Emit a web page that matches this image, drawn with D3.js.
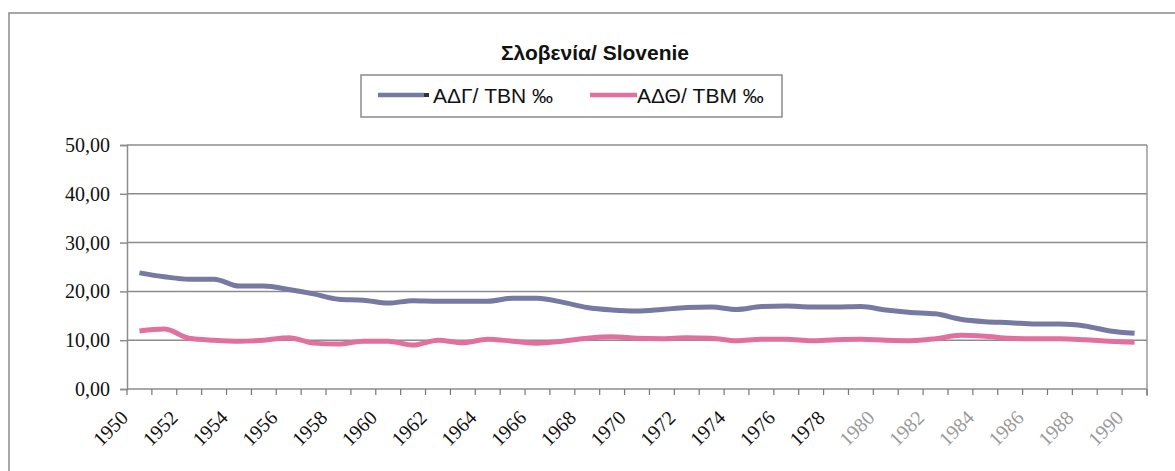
<!DOCTYPE html>
<html>
<head>
<meta charset="utf-8">
<script src="https://cdn.jsdelivr.net/npm/d3@7"></script>
<style>
  body { margin: 0; background: #fff; }
  svg { display: block; }
</style>
</head>
<body>
<div id="chart"></div>
<script>
// years and the two rates (per mille)
var years = d3.range(1950, 1991);
var tbn = [23.8, 23.0, 22.5, 22.5, 21.1, 21.1, 20.4, 19.5, 18.4, 18.2,
           17.6, 18.1, 18.0, 18.0, 18.0, 18.6, 18.6, 17.8, 16.7, 16.2,
           16.0, 16.3, 16.7, 16.8, 16.3, 16.9, 17.0, 16.8, 16.8, 16.9,
           16.2, 15.7, 15.4, 14.3, 13.8, 13.6, 13.3, 13.3, 12.9, 11.9, 11.4];
var tbm = [11.9, 12.3, 10.4, 10.0, 9.8, 10.0, 10.5, 9.4, 9.2, 9.8,
           9.8, 9.0, 10.0, 9.5, 10.2, 9.8, 9.4, 9.8, 10.4, 10.7,
           10.4, 10.3, 10.5, 10.4, 9.9, 10.2, 10.2, 9.9, 10.1, 10.2,
           10.0, 9.9, 10.3, 11.0, 10.8, 10.4, 10.3, 10.3, 10.1, 9.8, 9.6];
var yTicks = [0, 10, 20, 30, 40, 50];
var labelYears = d3.range(1950, 1991, 2);
var seriesNames = ["ΑΔΓ/ TBN ‰", "ΑΔΘ/ TBM ‰"];
var colors = ["#767aa2", "#e2709f"];

var W = 1175, H = 471;
var plot = {left: 127, right: 1147, top: 145, bottom: 389};

var svg = d3.select("#chart").append("svg")
  .attr("width", W).attr("height", H);

// outer frame of the chart
svg.append("rect")
  .attr("x", 9).attr("y", 13).attr("width", W + 10).attr("height", H)
  .attr("fill", "none").attr("stroke", "#8a8a8a").attr("stroke-width", 1.5);

var x = d3.scaleBand().domain(years).range([plot.left, plot.right]);
var y = d3.scaleLinear().domain([0, 50]).range([plot.bottom, plot.top]);

// gridlines
svg.append("g").selectAll("line").data(yTicks.slice(1)).enter().append("line")
  .attr("x1", plot.left).attr("x2", plot.right)
  .attr("y1", function(d) { return y(d); }).attr("y2", function(d) { return y(d); })
  .attr("stroke", "#8c8c8c").attr("stroke-width", 1.5);

// right edge of plot area
svg.append("line")
  .attr("x1", plot.right).attr("x2", plot.right)
  .attr("y1", plot.top).attr("y2", plot.bottom + 7)
  .attr("stroke", "#9a9a9a").attr("stroke-width", 1.5);

// y axis
var yAxis = svg.append("g")
  .attr("transform", "translate(" + plot.left + ",0)")
  .call(d3.axisLeft(y).tickValues(yTicks).tickSize(7).tickPadding(10)
    .tickFormat(function(d) { return d3.format(".2f")(d).replace(".", ","); }));
yAxis.select(".domain").attr("stroke", "#8c8c8c").attr("stroke-width", 1.5);
yAxis.selectAll(".tick line").attr("stroke", "#8c8c8c").attr("stroke-width", 1.5);
yAxis.selectAll("text")
  .attr("font-family", "'Liberation Serif', 'Times New Roman', serif")
  .attr("font-size", 20).attr("fill", "#111");

// x axis: ticks on the band edges
var edges = years.map(function(d) { return x(d); }).concat([plot.right]);
var xAxisG = svg.append("g");
xAxisG.append("line")
  .attr("x1", plot.left).attr("x2", plot.right)
  .attr("y1", plot.bottom).attr("y2", plot.bottom)
  .attr("stroke", "#8c8c8c").attr("stroke-width", 1.5);
xAxisG.selectAll("line.tk").data(edges).enter().append("line")
  .attr("class", "tk")
  .attr("x1", function(d) { return d; }).attr("x2", function(d) { return d; })
  .attr("y1", plot.bottom).attr("y2", plot.bottom + 6)
  .attr("stroke", "#777").attr("stroke-width", 1.2);

// year labels, every second year, rotated
xAxisG.selectAll("text").data(labelYears).enter().append("text")
  .attr("transform", function(d) {
    return "translate(" + (x(d) + x.bandwidth() / 2 - 10) + ",419) rotate(-45)";
  })
  .attr("text-anchor", "end")
  .attr("font-family", "'Liberation Serif', 'Times New Roman', serif")
  .attr("font-size", 20)
  .attr("fill", function(d) { return d >= 1980 ? "#9a9a9a" : "#111"; })
  .text(function(d) { return d; });

// lines
var line = d3.line()
  .x(function(d, i) { return x(years[i]) + x.bandwidth() / 2; })
  .y(function(d) { return y(d); })
  .curve(d3.curveMonotoneX);

[tbn, tbm].forEach(function(s, i) {
  svg.append("path").datum(s)
    .attr("d", line)
    .attr("fill", "none")
    .attr("stroke", colors[i])
    .attr("stroke-width", 5)
    .attr("stroke-linejoin", "round");
});

// title
svg.append("text")
  .attr("x", 595).attr("y", 60)
  .attr("text-anchor", "middle")
  .attr("font-family", "'Liberation Sans', Arial, sans-serif")
  .attr("font-weight", "bold").attr("font-size", 21)
  .attr("fill", "#111")
  .text("Σλοβενία/ Slovenie");

// legend
var lg = svg.append("g");
lg.append("rect")
  .attr("x", 361).attr("y", 75).attr("width", 421).attr("height", 42)
  .attr("fill", "#fff").attr("stroke", "#8a8a8a").attr("stroke-width", 1.5);
var legendItems = [
  {x1: 378, x2: 424, tx: 433},
  {x1: 590, x2: 637, tx: 637}
];
legendItems.forEach(function(it, i) {
  lg.append("line")
    .attr("x1", it.x1).attr("x2", it.x2).attr("y1", 95).attr("y2", 95)
    .attr("stroke", colors[i]).attr("stroke-width", 4.5);
  if (i === 0) {
    lg.append("rect").attr("x", 424).attr("y", 93).attr("width", 5).attr("height", 4)
      .attr("fill", "#333");
  }
  lg.append("text")
    .attr("x", it.tx).attr("y", 103)
    .attr("font-family", "'Liberation Sans', Arial, sans-serif")
    .attr("font-size", 21).attr("fill", "#111")
    .text(seriesNames[i]);
});
</script>
</body>
</html>
